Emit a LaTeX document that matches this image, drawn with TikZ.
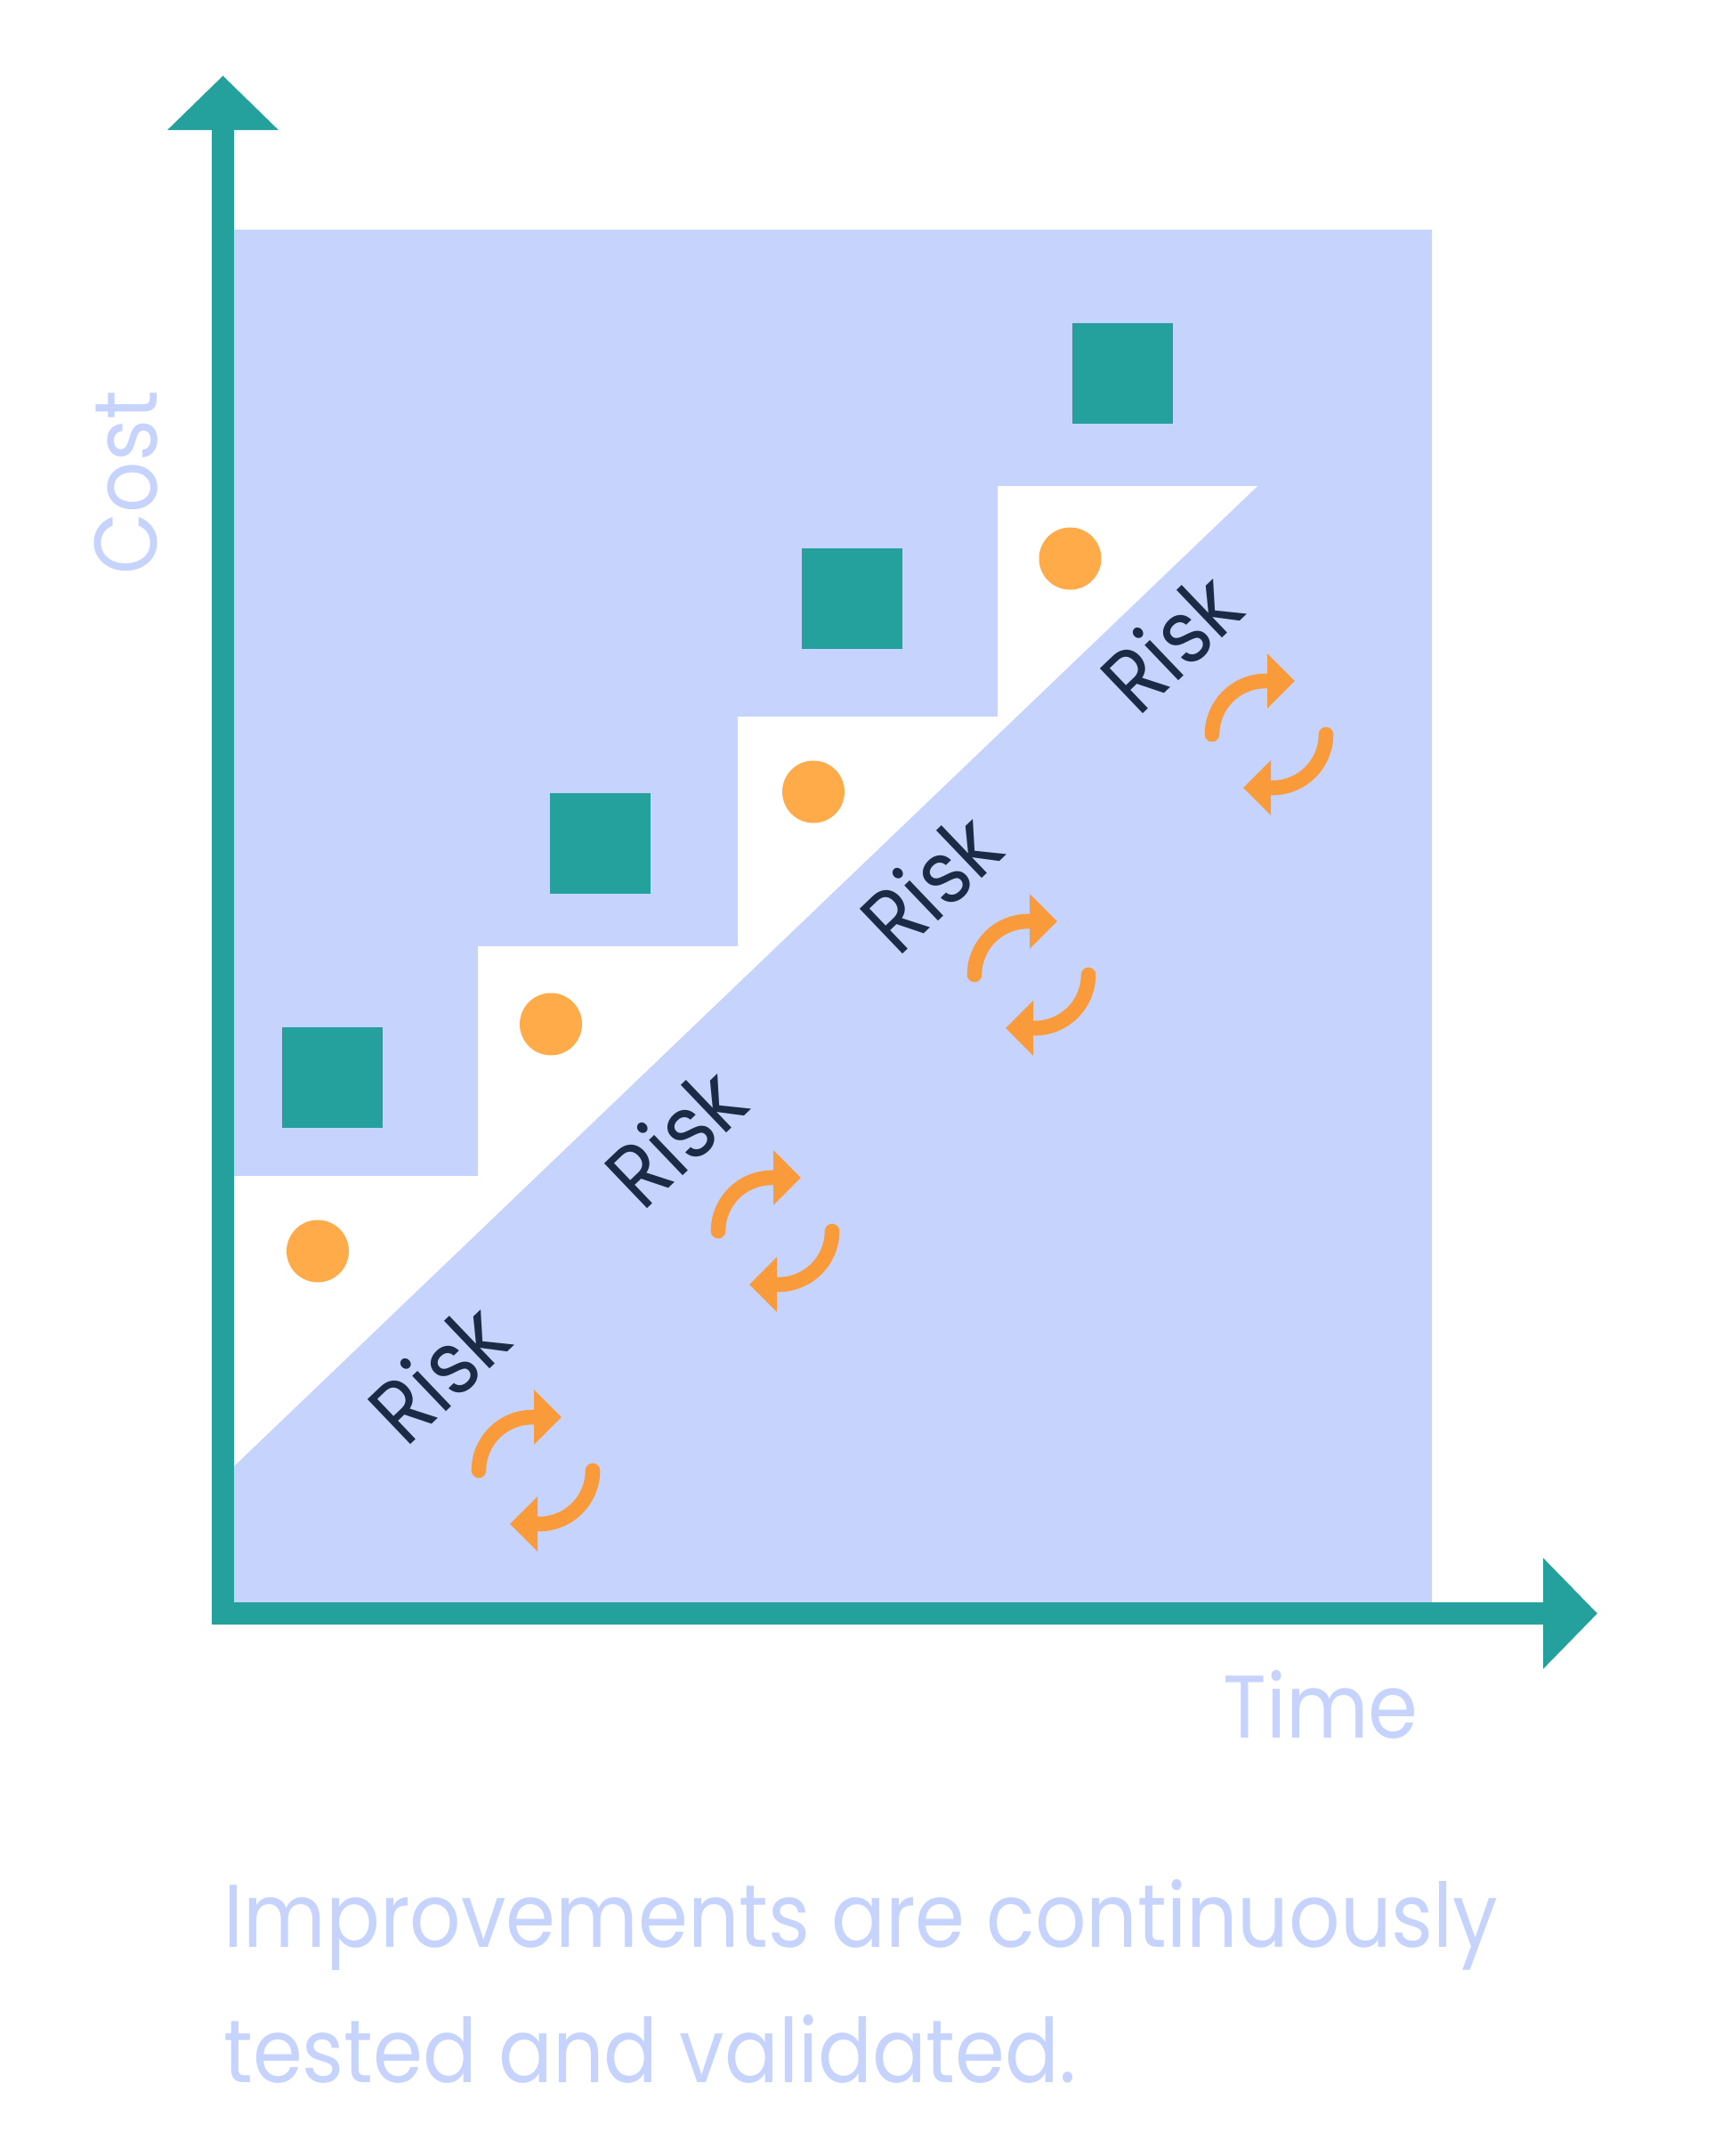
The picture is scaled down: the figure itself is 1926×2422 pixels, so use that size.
\documentclass[tikz,border=0pt]{standalone}
\usepackage{fontspec}
\setmainfont{Poppins}[FakeStretch=0.9]
\usepackage{tikz}
\usetikzlibrary{arrows.meta}
\definecolor{svarzd}{rgb}{0.1451,0.6314,0.6157}
\definecolor{cwdufd}{rgb}{0.7765,0.8314,0.9922}
\definecolor{ffabua}{rgb}{1.,0.6706,0.2902}
\definecolor{fzzbtb}{rgb}{0.9765,0.6078,0.2314}
\definecolor{rcsbuv}{rgb}{0.1098,0.1686,0.2706}

\begin{document}
\begin{tikzpicture}[line cap=round,line join=round,x=0.5pt,y=-0.5pt,
  axisline/.style={line width=12.5pt,line cap=butt,line join=miter,color=svarzd,{Triangle[width=60.5pt,length=30.5pt]}-{Triangle[width=60.5pt,length=30.5pt]}},
  looparrow/.style={line width=8.3pt,color=fzzbtb,-{Triangle[width=30pt,length=15.5pt]}},
  risktext/.style={color=rcsbuv,rotate=43.7,inner sep=0pt,font=\fontsize{50}{60}\selectfont},
  greytext/.style={color=cwdufd,inner sep=0pt,font=\fontsize{50}{60}\selectfont}]
\clip(0,0) rectangle (1926,2422);
\fill[cwdufd] (263,258) rectangle (1609,1800);
\fill[white] (263,1647) -- (263,1321) -- (537,1321) -- (537,1063) -- (829,1063) -- (829,805) -- (1121,805) -- (1121,546) -- (1413,546) -- cycle;
\coordinate (ytip) at (250.5,85);
\coordinate (origin) at (250.5,1812.5);
\coordinate (xtip) at (1795,1812.5);
\draw[axisline] (ytip) -- (origin) -- (xtip);
\fill[svarzd] (316.5,1153.5) rectangle (429.5,1266.5);
\fill[svarzd] (617.5,891) rectangle (730.5,1004);
\fill[svarzd] (900.5,616) rectangle (1013.5,729);
\fill[svarzd] (1204.5,362.5) rectangle (1317.5,475.5);
\fill[ffabua] (357,1405.5) circle (35);
\fill[ffabua] (619,1150.5) circle (35);
\fill[ffabua] (914,889.5) circle (35);
\fill[ffabua] (1202.5,627.5) circle (35);
\node[risktext] (risk1) at (492,1542) {Risk};
\node[risktext] (risk2) at (758,1277) {Risk};
\node[risktext] (risk3) at (1045,991) {Risk};
\node[risktext] (risk4) at (1315,721) {Risk};
\draw[looparrow] (538,1652) arc[start angle=180,end angle=270,radius=60] -- ++(33,0);
\draw[looparrow] (666,1652) arc[start angle=0,end angle=90,radius=60] -- ++(-33,0);
\draw[looparrow] (807,1383) arc[start angle=180,end angle=270,radius=60] -- ++(33,0);
\draw[looparrow] (935,1383) arc[start angle=0,end angle=90,radius=60] -- ++(-33,0);
\draw[looparrow] (1095,1095) arc[start angle=180,end angle=270,radius=60] -- ++(33,0);
\draw[looparrow] (1223,1095) arc[start angle=0,end angle=90,radius=60] -- ++(-33,0);
\draw[looparrow] (1362,825) arc[start angle=180,end angle=270,radius=60] -- ++(33,0);
\draw[looparrow] (1490,825) arc[start angle=0,end angle=90,radius=60] -- ++(-33,0);
\node[greytext,anchor=base west] (time) at (1374,1952) {Time};
\node[greytext,anchor=base west,rotate=90] (cost) at (176,646) {Cost};
\node[greytext,anchor=base west] (caption1) at (251,2187) {Improvements are continuously};
\node[greytext,anchor=base west] (caption2) at (251,2339) {tested and validated.};
\end{tikzpicture}
\end{document}
